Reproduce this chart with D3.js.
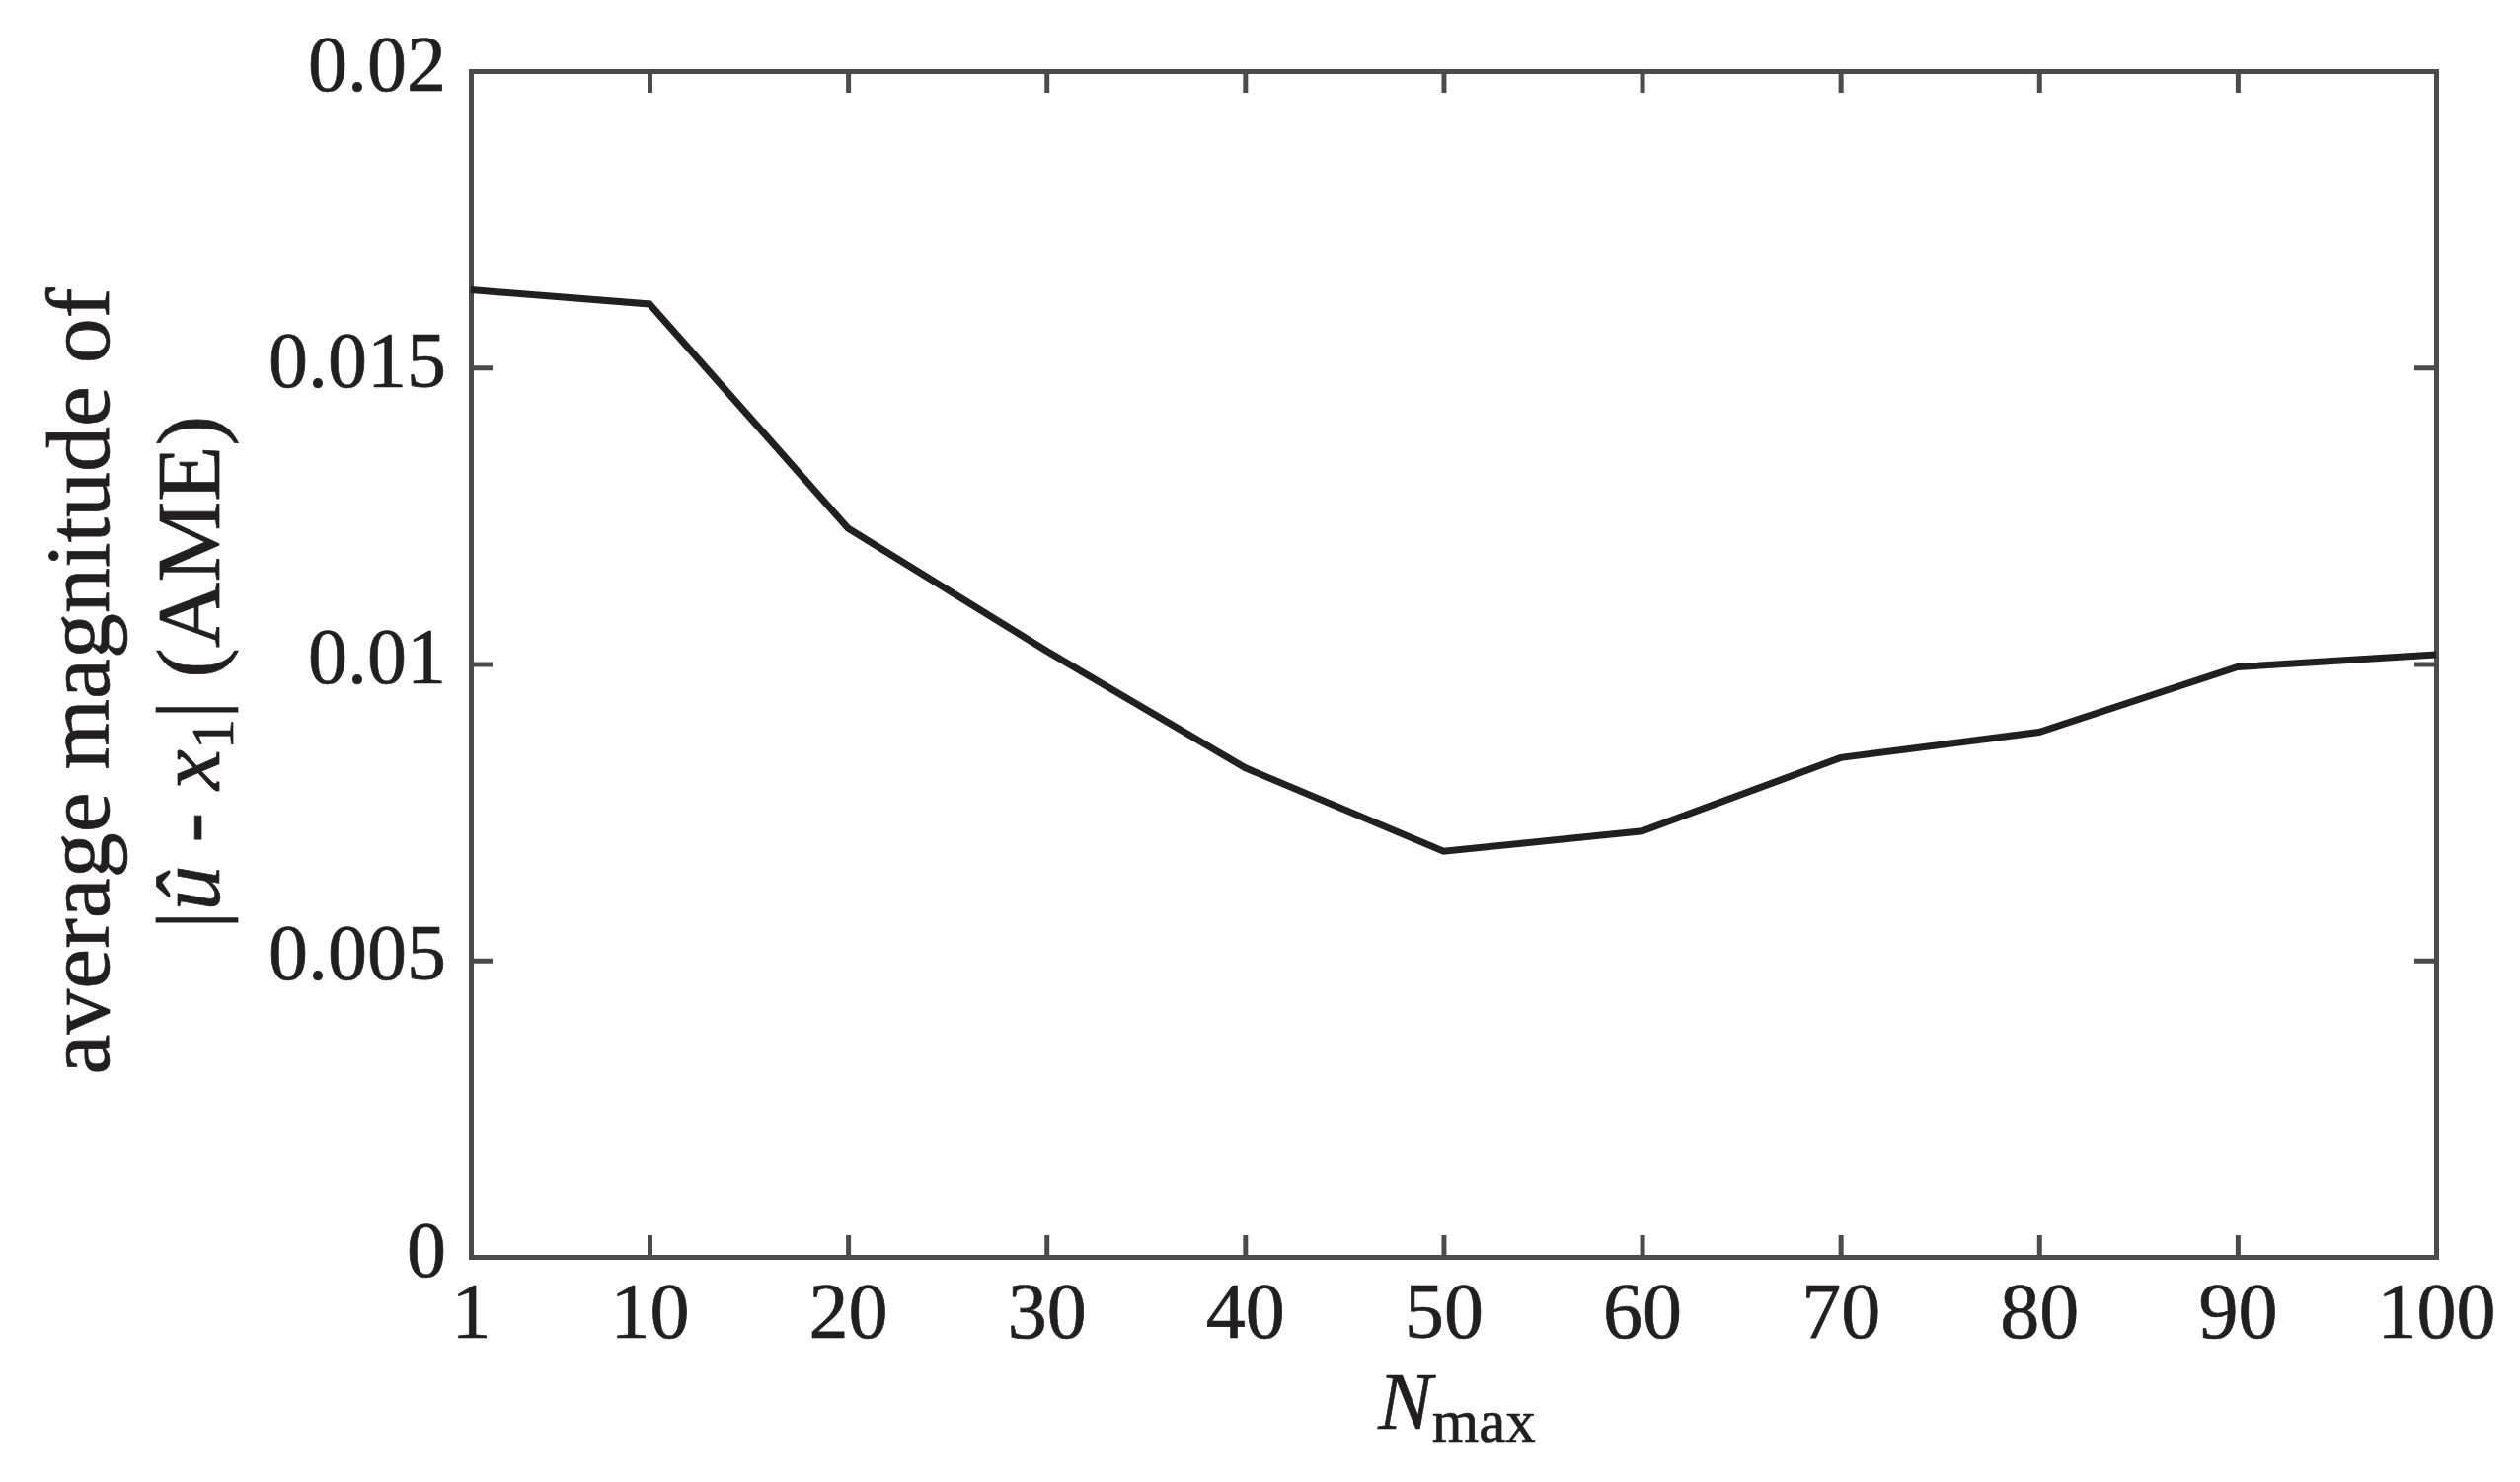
<!DOCTYPE html>
<html>
<head>
<meta charset="utf-8">
<script src="https://cdn.jsdelivr.net/npm/d3@7"></script>
<style>
	body { margin: 0; background: #fff; }
	svg text { font-family: "Liberation Serif", "Times New Roman", serif; fill: #231f20; stroke: #231f20; stroke-width: 0.7px; }
</style>
</head>
<body>
<svg id="chart"></svg>
<script>

// N_max values on the x axis and the AME
var nMax = [1, 10, 20, 30, 40, 50, 60, 70, 80, 90, 100];
var ame = [0.01631, 0.01607, 0.01229, 0.01022, 0.00825, 0.00684, 0.00718, 0.00842, 0.00885, 0.00995, 0.01016];

var xTicks = [1, 10, 20, 30, 40, 50, 60, 70, 80, 90, 100];
var yTicks = [0, 0.005, 0.01, 0.015, 0.02];
var yTickLabels = ["0", "0.005", "0.01", "0.015", "0.02"];

var width = 2553, height = 1501;
var margin = {top: 72, right: 85, bottom: 228, left: 477};
var axisColor = "#4b4b4d", inkColor = "#231f20";
var tickLen = 22;

var svg = d3.select("#chart").attr("width", width).attr("height", height);

svg.append("rect").attr("width", width).attr("height", height).attr("fill", "#fff");

var x = d3.scaleLinear().domain([1, 100]).range([margin.left, width - margin.right]);
var y = d3.scaleLinear().domain([0, 0.02]).range([height - margin.bottom, margin.top]);

function styleAxis(g){
	g.attr("font-size", null).attr("font-family", null);
	g.select(".domain").attr("stroke", axisColor).attr("stroke-width", 5).attr("stroke-linecap", "square");
	g.selectAll(".tick line").attr("stroke", axisColor).attr("stroke-width", 5);
}

// bottom axis with labels
svg.append("g")
.attr("transform", "translate(0," + y(0) + ")")
.call(d3.axisBottom(x).tickValues(xTicks).tickSize(-tickLen).tickSizeOuter(0).tickFormat(d3.format("d")))
.call(styleAxis)
.selectAll("text")
.attr("y", 82).attr("dy", null)
.attr("font-size", 80);

// top axis, ticks only
svg.append("g")
.attr("transform", "translate(0," + y(0.02) + ")")
.call(d3.axisTop(x).tickValues(xTicks).tickSize(-tickLen).tickSizeOuter(0).tickFormat(""))
.call(styleAxis);

// left axis with labels
svg.append("g")
.attr("transform", "translate(" + x(1) + ",0)")
.call(d3.axisLeft(y).tickValues(yTicks).tickSize(-tickLen).tickSizeOuter(0)
	.tickFormat(function(d, i){ return yTickLabels[i]; }))
.call(styleAxis)
.selectAll("text")
.attr("x", -25).attr("y", 19).attr("dy", null)
.attr("font-size", 80);

// right axis, ticks only
svg.append("g")
.attr("transform", "translate(" + x(100) + ",0)")
.call(d3.axisRight(y).tickValues(yTicks).tickSize(-tickLen).tickSizeOuter(0).tickFormat(""))
.call(styleAxis);

// the curve
var line = d3.line()
.x(function(d, i){ return x(nMax[i]); })
.y(function(d){ return y(d); });

svg.append("path")
.datum(ame)
.attr("d", line)
.attr("fill", "none")
.attr("stroke", inkColor)
.attr("stroke-width", 7)
.attr("stroke-linejoin", "miter");

// x label: N_max
var xl = svg.append("text")
.attr("x", 1476).attr("y", 1447)
.attr("text-anchor", "middle")
.attr("font-size", 82);
xl.append("tspan").attr("font-style", "italic").text("N");
xl.append("tspan").attr("font-size", 61).attr("dy", 13).text("max");

// y label, two lines
var yl = svg.append("g").attr("transform", "rotate(-90)");

yl.append("text")
.attr("x", -690).attr("y", 110)
.attr("text-anchor", "middle")
.attr("font-size", 92)
.text("average magnitude of");

var l2 = yl.append("text")
.attr("x", -681).attr("y", 222)
.attr("text-anchor", "middle")
.attr("font-size", 92);
l2.append("tspan").text("|");
l2.append("tspan").attr("font-style", "italic").text("\u00fb");
l2.append("tspan").text(" - ");
l2.append("tspan").attr("font-style", "italic").text("x");
l2.append("tspan").attr("font-size", 62).attr("dy", 14).text("1");
l2.append("tspan").attr("dy", -14).text("| (AME)");

</script>
</body>
</html>
